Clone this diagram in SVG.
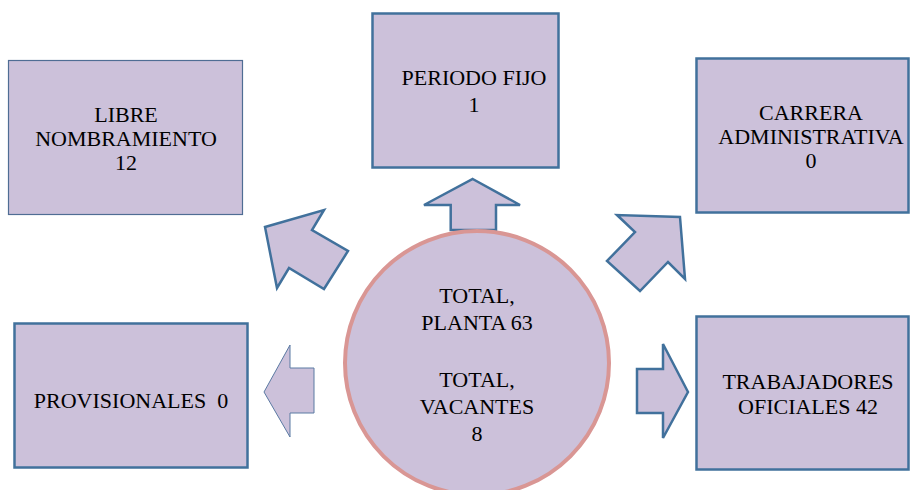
<svg xmlns="http://www.w3.org/2000/svg" width="910" height="490" viewBox="0 0 910 490">
<style>
.box{fill:#ccc1da;stroke:#41719c;stroke-width:2.5}
.thin{stroke:#4f6d94;stroke-width:1.2}
.arr{fill:#ccc1da;stroke:#41719c;stroke-width:2.5;stroke-linejoin:miter}
.arrthin{fill:#ccc1da;stroke:#5b7aa3;stroke-width:1}
.t{font-family:"Liberation Serif","Times New Roman",Times,"Nimbus Roman","FreeSerif","Noto Serif","DejaVu Serif",serif;font-size:22px;fill:#000;text-anchor:middle}
</style>
<rect width="910" height="490" fill="#fff"/>
<g id="libre">
<rect class="box thin" x="8.5" y="60.5" width="234" height="154"/>
<text class="t" x="126" y="122">LIBRE</text>
<text class="t" x="126" y="146">NOMBRAMIENTO</text>
<text class="t" x="126" y="170">12</text>
</g>
<g id="periodo">
<rect class="box" x="372.5" y="13.5" width="186" height="154"/>
<text class="t" x="474" y="85">PERIODO FIJO</text>
<text class="t" x="474" y="112">1</text>
</g>
<g id="carrera">
<rect class="box" x="696.5" y="58.5" width="212" height="154"/>
<text class="t" x="811" y="120">CARRERA</text>
<text class="t" x="811" y="144">ADMINISTRATIVA</text>
<text class="t" x="811" y="168">0</text>
</g>
<g id="provisionales">
<rect class="box" x="14.5" y="323.5" width="233" height="144"/>
<text class="t" x="131" y="408" xml:space="preserve">PROVISIONALES  0</text>
</g>
<g id="trabajadores">
<rect class="box" x="696.5" y="316.5" width="212" height="153"/>
<text class="t" x="808" y="389">TRABAJADORES</text>
<text class="t" x="808" y="414">OFICIALES 42</text>
</g>
<g id="connectors">
<polygon class="arr" points="472.7,179 520,205 496,205 496,230 450.7,230 450.7,205 424,205"/>
<polygon class="arr" points="265,227 324,210 312,230 348,251 324,289 289,268 277,288"/>
<polygon class="arr" points="680,217 685,279 668,262 640,291 607,261 635,232 617,215"/>
<polygon class="arrthin" points="264,392 290,345 290,368 314,368 314,413 290,413 290,437"/>
<polygon class="arr" points="688,392 663,344 663,369 637,369 637,413 663,413 663,438"/>
</g>
<g id="total">
<circle cx="477" cy="363" r="132" fill="#ccc1da" stroke="#d99694" stroke-width="4"/>
<text class="t" x="477" y="303">TOTAL,</text>
<text class="t" x="477" y="330">PLANTA 63</text>
<text class="t" x="477" y="387">TOTAL,</text>
<text class="t" x="477" y="414">VACANTES</text>
<text class="t" x="477" y="441">8</text>
</g>
</svg>
